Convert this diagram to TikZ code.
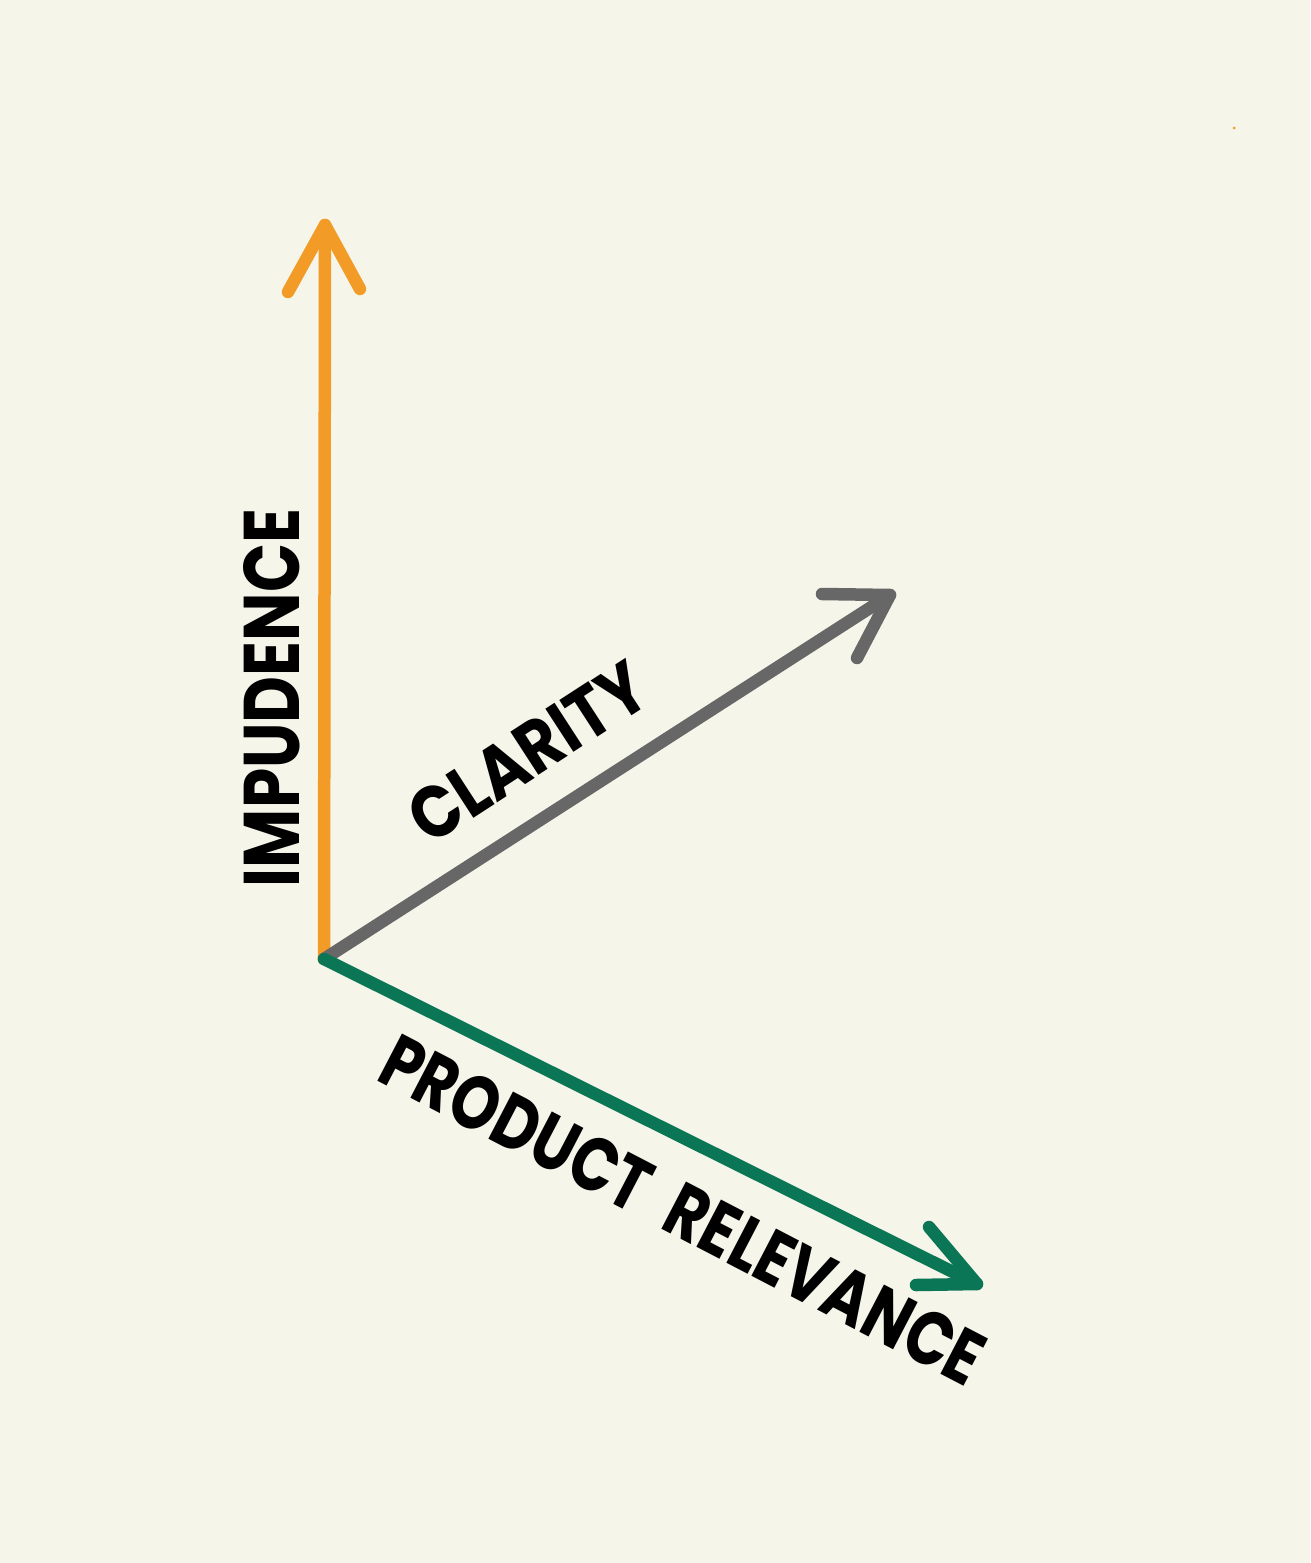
\documentclass[tikz,border=0pt]{standalone}
\usepackage{fontspec}
\newfontfamily\handfont{Poppins}
\definecolor{bgc}{HTML}{F5F5EA}
\definecolor{orangec}{HTML}{F29B26}
\definecolor{grayc}{HTML}{676767}
\definecolor{greenc}{HTML}{0B7656}
\tikzset{
  axisline/.style={line width=12.5pt, line cap=round, line join=round},
  axislabel/.style={inner sep=0pt, text=black, font=\handfont\bfseries}
}
\begin{document}
\begin{tikzpicture}[x=1pt,y=-1pt]
\fill[bgc] (0,0) rectangle (1310,1563);
\useasboundingbox (0,0) rectangle (1310,1563);
\fill[orangec] (1234,128) circle (1.5);
\coordinate (o) at (324,959);
\coordinate (up) at (325,225);
\coordinate (cl) at (890,595);
\coordinate (pr) at (977,1284);
% orange axis
\draw[axisline, orangec] (o) -- (up);
\draw[axisline, orangec] (288,292) -- (up) -- (360,289);
% gray axis
\draw[axisline, grayc] (o) -- (cl);
\draw[axisline, grayc] (822,594) -- (cl) -- (857,658);
% green axis
\draw[axisline, greenc] (o) -- (pr);
\draw[axisline, greenc] (929,1227) -- (pr) -- (916,1285);
% labels
\node[axislabel, rotate=90] (imp) at (272,698) {\resizebox{378pt}{56pt}{IMPUDENCE}};
\node[axislabel, rotate=33] (cla) at (528,752) {\resizebox{268pt}{52pt}{CLARITY}};
\node[axislabel, rotate=-27.5] (prl) at (683,1210) {\resizebox{668pt}{54pt}{PRODUCT\hspace{0.45em}RELEVANCE}};
\end{tikzpicture}
\end{document}
